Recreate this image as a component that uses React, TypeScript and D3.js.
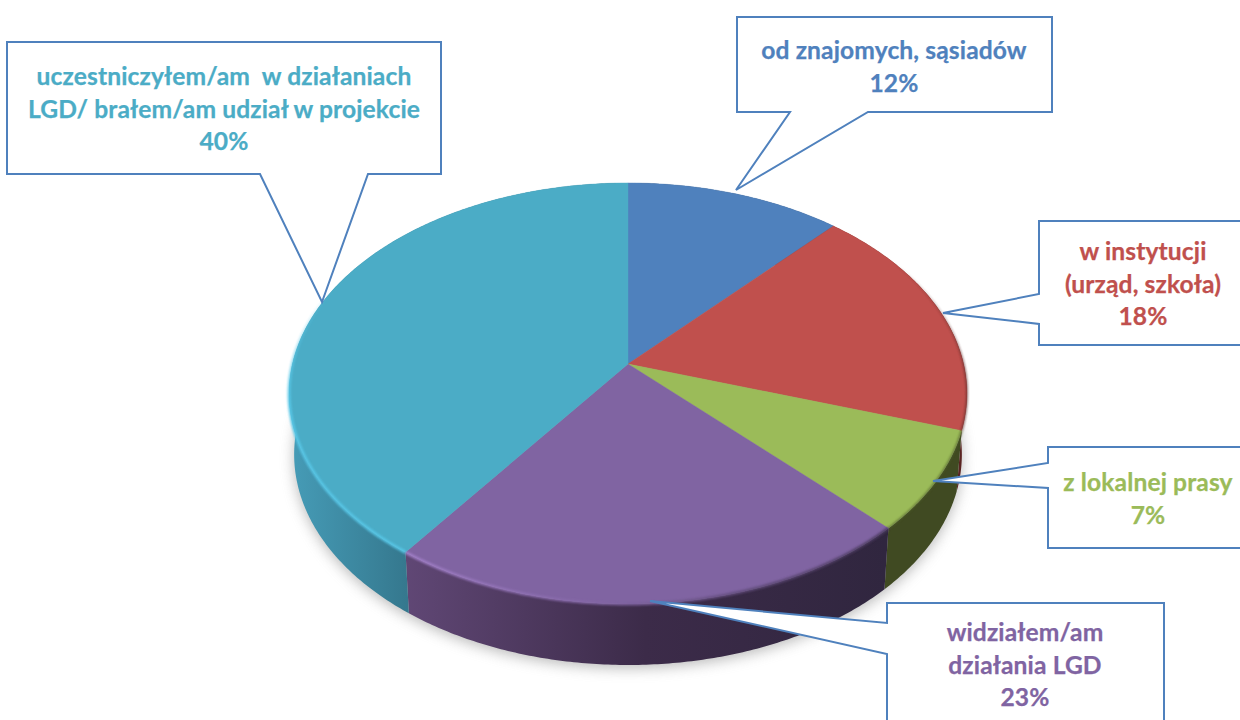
import React from "react";
import * as d3 from "d3";

const categories = [
  "od znajomych, sąsiadów",
  "w instytucji (urząd, szkoła)",
  "z lokalnej prasy",
  "widziałem/am działania LGD",
  "uczestniczyłem/am w działaniach LGD/ brałem/am udział w projekcie",
];
const sliceValues = [11.8, 18.2, 7.7, 22.3, 40];
const percentLabels = ["12%", "18%", "7%", "23%", "40%"];
const topColors = ["#4f81bd", "#c0504d", "#9bbb59", "#8064a2", "#4bacc6"];
const labelLines = [
  ["od znajomych, sąsiadów"],
  ["w instytucji", "(urząd, szkoła)"],
  ["z lokalnej prasy"],
  ["widziałem/am", "działania LGD"],
  ["uczestniczyłem/am  w działaniach", "LGD/ brałem/am udział w projekcie"],
];

// Layout of the callouts
const callouts = [
  { cx: 894, y0: 59, pts: "737,17 1052,17 1052,112 868,112 736,190 790,112 737,112" },
  { cx: 1143, y0: 260, pts: "1039,221 1260,221 1260,345 1039,345 1039,324 943,313 1039,294" },
  { cx: 1148, y0: 491, pts: "1048,447 1260,447 1260,548 1048,548 1048,488 933,481 1048,463" },
  { cx: 1025, y0: 641, pts: "887,603 1164,603 1164,740 887,740 887,654 650,601 887,623" },
  { cx: 224, y0: 85, pts: "7,42 441,42 441,174 368,174 322,302 260,174 7,174" },
];
const lineStep = 32.5;

// Perspective projection of the pie's circle
const W = 1240, H = 720;
const apexX = 628, apexY = 364, R = 335.6, S = 206.4, K = 0.14;
const depth = 61, bottomScale = 0.985;

function project(a: number, bottom = false): [number, number] {
  const u = Math.sin(a), v = -Math.cos(a);
  const w = 1 - K * v;
  const x = (R * u) / w;
  const y = (S * v) / w;
  return bottom
    ? [apexX + x * bottomScale, apexY + y + depth]
    : [apexX + x, apexY + y];
}

function arcPoints(a0: number, a1: number, bottom = false) {
  const n = Math.max(2, Math.ceil((a1 - a0) / 0.01));
  return d3.range(n + 1).map((i) => project(a0 + ((a1 - a0) * i) / n, bottom));
}

const line = d3.line();
const pie = d3.pie<number>().sort(null).value((d) => d);
const slices = pie(sliceValues);

const wallFill = ["#3a4f6c", "#5a2321", "#404a22", "url(#wallPurple)", "url(#wallTeal)"];
const rimStroke = ["none", "url(#rimRed)", "#4d5a2a", "url(#rimPurple)", "url(#rimTeal)"];
const rimWidth = [0, 2, 2, 3, 3.2];
const font = "Lato, Carlito, sans-serif";

export default function App() {
  const full = arcPoints(0, Math.PI * 2, true);
  return (
    <svg width={W} height={H} viewBox={`0 0 ${W} ${H}`} style={{ position: "fixed", left: 0, top: 0, display: "block", background: "#fff" }}>
      <defs>
        <filter id="shadow" x="-20%" y="-20%" width="140%" height="140%">
          <feGaussianBlur stdDeviation="7" />
        </filter>
        <filter id="rimBlur" x="-5%" y="-5%" width="110%" height="110%">
          <feGaussianBlur stdDeviation="0.9" />
        </filter>
        <linearGradient id="wallTeal" gradientUnits="userSpaceOnUse" x1="290" x2="407" y1="0" y2="0">
          <stop offset="0" stopColor="#469cb7" />
          <stop offset="1" stopColor="#35788e" />
        </linearGradient>
        <linearGradient id="wallPurple" gradientUnits="userSpaceOnUse" x1="405" x2="885" y1="0" y2="0">
          <stop offset="0" stopColor="#604775" />
          <stop offset="0.5" stopColor="#3c2b49" />
          <stop offset="1" stopColor="#30263f" />
        </linearGradient>
        <linearGradient id="rimTeal" gradientUnits="userSpaceOnUse" x1="0" x2="0" y1="290" y2="400">
          <stop offset="0" stopColor="#58c8e8" stopOpacity={0} />
          <stop offset="1" stopColor="#58c8e8" stopOpacity={1} />
        </linearGradient>
        <linearGradient id="rimRed" gradientUnits="userSpaceOnUse" x1="0" x2="0" y1="260" y2="370">
          <stop offset="0" stopColor="#5c2a28" stopOpacity={0} />
          <stop offset="1" stopColor="#5c2a28" stopOpacity={1} />
        </linearGradient>
        <linearGradient id="rimPurple" gradientUnits="userSpaceOnUse" x1="405" x2="885" y1="0" y2="0">
          <stop offset="0" stopColor="#a582cc" />
          <stop offset="0.45" stopColor="#7f63a0" />
          <stop offset="0.7" stopColor="#5f4a78" />
          <stop offset="1" stopColor="#4a3a5e" />
        </linearGradient>
      </defs>

      <path d={line(full)! + "Z"} fill="#8a8a8a" opacity={0.6} transform="translate(0,3)" filter="url(#shadow)" />

      <g>
        {slices.map((s, i) => {
          const top = arcPoints(s.startAngle, s.endAngle);
          const bot = arcPoints(s.startAngle, s.endAngle, true).reverse();
          return <path key={i} d={line([...top, ...bot])! + "Z"} fill={wallFill[i]} />;
        })}
      </g>
      <g>
        {slices.map((s, i) => {
          const top = arcPoints(s.startAngle, s.endAngle);
          return (
            <path
              key={i}
              d={line([[apexX, apexY], ...top])! + "Z"}
              fill={topColors[i]}
              stroke={topColors[i]}
              strokeWidth={0.4}
            />
          );
        })}
      </g>
      <g>
        {slices.map((s, i) => (
          <path
            key={i}
            d={line(arcPoints(s.startAngle, s.endAngle))!}
            fill="none"
            stroke={rimStroke[i]}
            strokeWidth={rimWidth[i]}
            opacity={i >= 3 ? 0.9 : 0.7}
            filter="url(#rimBlur)"
          />
        ))}
      </g>

      {callouts.map((c, i) => (
        <g key={i}>
          <polygon points={c.pts} fill="#fff" stroke="#4f81bd" strokeWidth={2} strokeLinejoin="miter" />
          <text textAnchor="middle" fontFamily={font} fontWeight={700} fontSize={24.6} letterSpacing={0.12} fill={topColors[i]} stroke={topColors[i]} strokeWidth={0.25} xmlSpace="preserve" style={{ whiteSpace: "pre" }}>
            {[...labelLines[i], percentLabels[i]].map((t, j) => (
              <tspan key={j} x={c.cx} y={c.y0 + j * lineStep}>{t}</tspan>
            ))}
          </text>
        </g>
      ))}
    </svg>
  );
}
